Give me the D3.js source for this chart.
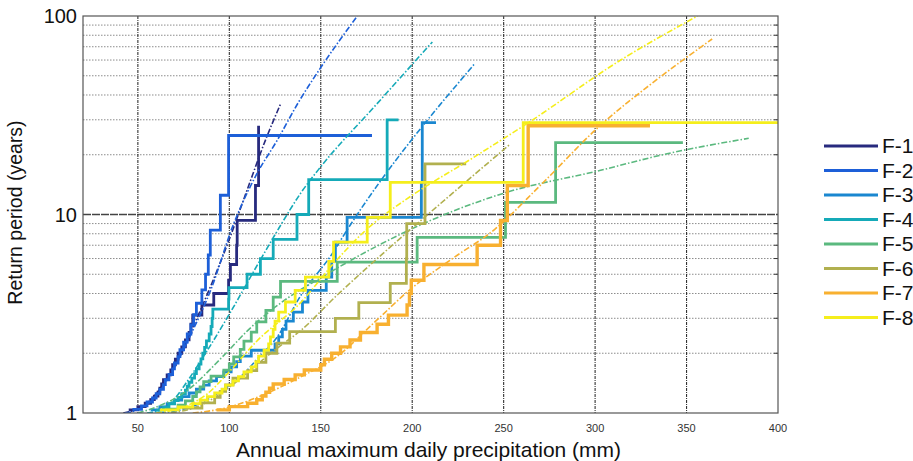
<!DOCTYPE html>
<html lang="en">
  <head>
    <meta charset="UTF-8" />
    <title>Return period vs annual maximum daily precipitation</title>
    <script src="https://d3js.org/d3.v7.min.js"></script>
    <style>
      body {
        margin: 0;
        background: #ffffff;
        font-family: "Liberation Sans", Arial, Helvetica, sans-serif;
      }
      .x-tick {
        font-size: 11px;
        fill: #333;
      }
      .y-tick {
        font-size: 20px;
        fill: #111;
      }
      .axis-title {
        fill: #111;
      }
      .legend-label {
        font-size: 21px;
        fill: #111;
      }
    </style>
  </head>
  <body>
    <div id="chart"></div>
    <script>
      // ---- data ----
      const seriesNames = ["F-1", "F-2", "F-3", "F-4", "F-5", "F-6", "F-7", "F-8"];
      const seriesColors = ["#272a7e", "#1d5fd8", "#1a87d0", "#15aab8", "#5bb97f", "#b1b04f", "#f8b030", "#f5ee1c"];

      const xTicks = [50, 100, 150, 200, 250, 300, 350, 400];
      const yTicks = [1, 10, 100];
      const yMinorTicks = [2, 3, 4, 5, 6, 7, 8, 9, 20, 30, 40, 50, 60, 70, 80, 90];

      // empirical step curves: precipitation (mm) and return period (years)
      const f1Precip = [45, 50, 54, 57, 59, 61, 62, 63, 64, 66, 68, 69, 70.5, 72, 74, 76, 78, 79, 80, 85, 91.5, 99.6, 100.6, 104, 104.3, 114.3, 116];
      const f1Period = [1.037, 1.077, 1.12, 1.167, 1.217, 1.273, 1.333, 1.4, 1.474, 1.556, 1.647, 1.75, 1.867, 2.0, 2.154, 2.333, 2.545, 2.8, 3.111, 3.5, 4.0, 4.667, 5.6, 7.0, 9.333, 14, 28];

      const f2Precip = [47, 52, 55, 58, 60, 62, 64, 65, 67, 69, 70, 72, 73, 75, 77, 79, 80.5, 82, 85, 87, 88.5, 89.6, 95.1, 99.6, 178];
      const f2Period = [1.042, 1.087, 1.136, 1.19, 1.25, 1.316, 1.389, 1.471, 1.563, 1.667, 1.786, 1.923, 2.083, 2.273, 2.5, 2.778, 3.125, 3.571, 4.167, 5.0, 6.25, 8.333, 12.5, 25, 25];

      const f3Precip = [57, 62, 66, 70, 74, 78, 82, 86, 89, 93, 97, 101, 104, 106, 112, 125, 127, 129, 131, 135, 140, 143, 153, 156, 158, 164.4, 205, 205.5, 213];
      const f3Period = [1.036, 1.074, 1.115, 1.16, 1.208, 1.261, 1.318, 1.381, 1.45, 1.526, 1.611, 1.706, 1.813, 1.933, 2.071, 2.231, 2.417, 2.636, 2.9, 3.222, 3.625, 4.143, 4.833, 5.8, 7.25, 9.667, 14.5, 29, 29];

      const f4Precip = [60, 64, 67, 70, 72, 74, 76, 77, 78, 79.5, 81, 82, 83.5, 84.5, 85.5, 86.5, 87.5, 89, 90, 90.6, 91, 99.6, 99.8, 109.7, 117, 124, 137, 143.4, 186.3, 192.5];
      const f4Period = [1.034, 1.071, 1.111, 1.154, 1.2, 1.25, 1.304, 1.364, 1.429, 1.5, 1.579, 1.667, 1.765, 1.875, 2.0, 2.143, 2.308, 2.5, 2.727, 3.0, 3.333, 3.75, 4.286, 5.0, 6.0, 7.5, 10, 15, 30, 30];

      const f5Precip = [65, 72, 76, 80, 82, 84, 86, 90, 97, 100, 102.4, 106, 108, 112, 115, 120, 124, 128, 159, 202.7, 251, 278.4, 348];
      const f5Period = [1.045, 1.095, 1.15, 1.211, 1.278, 1.353, 1.438, 1.533, 1.643, 1.769, 1.917, 2.091, 2.3, 2.556, 2.875, 3.286, 3.833, 4.6, 5.75, 7.667, 11.5, 23, 23];

      const f6Precip = [74, 85, 92, 95, 98, 102, 110, 115, 120, 126, 133, 158, 170.8, 188, 196.8, 197, 207, 229.5];
      const f6Period = [1.059, 1.125, 1.2, 1.286, 1.385, 1.5, 1.636, 1.8, 2.0, 2.25, 2.571, 3.0, 3.6, 4.5, 6.0, 9.0, 18, 18];

      const f7Precip = [93, 100, 110, 115, 118, 120, 122, 124, 130, 136, 141, 150, 152, 156, 160.8, 166, 171.7, 180.8, 187, 197.2, 198.5, 199.5, 206.4, 235.5, 248.3, 252, 263.4, 330];
      const f7Period = [1.037, 1.077, 1.12, 1.167, 1.217, 1.273, 1.333, 1.4, 1.474, 1.556, 1.647, 1.75, 1.867, 2.0, 2.154, 2.333, 2.545, 2.8, 3.111, 3.5, 4.0, 4.667, 5.6, 7.0, 9.333, 14, 28, 28];

      const f8Precip = [62, 72, 80, 84, 88, 92, 96, 98, 102, 105, 108, 112, 114.5, 116, 119, 121.5, 122.5, 124, 125, 127, 130.7, 136, 141.6, 154.4, 157, 175.4, 188, 260.7, 400];
      const f8Period = [1.036, 1.074, 1.115, 1.16, 1.208, 1.261, 1.318, 1.381, 1.45, 1.526, 1.611, 1.706, 1.813, 1.933, 2.071, 2.231, 2.417, 2.636, 2.9, 3.222, 3.625, 4.143, 4.833, 5.8, 7.25, 9.667, 14.5, 29, 29];

      // fitted distribution curves (dash-dot)
      const f1FitPrecip = [42, 50, 60, 70, 80, 90, 100, 110, 120, 128];
      const f1FitPeriod = [1.0, 1.05, 1.25, 1.75, 2.7, 4.4, 7.5, 13.5, 24, 36];

      const f2FitPrecip = [43, 50, 60, 70, 80, 90, 102, 115, 126, 138, 150, 170];
      const f2FitPeriod = [1.0, 1.04, 1.22, 1.7, 2.6, 4.2, 8.8, 16, 23.5, 37, 55, 100];

      const f3FitPrecip = [62, 80, 95, 106, 116, 126, 139, 156, 164.4, 234];
      const f3FitPeriod = [1.0, 1.08, 1.28, 1.52, 1.9, 2.4, 3.9, 6.3, 8.36, 57.3];

      const f4FitPrecip = [55, 65, 70.5, 76, 87, 99.6, 114, 127, 139, 150, 180, 211];
      const f4FitPeriod = [1.0, 1.06, 1.19, 1.4, 2.0, 3.1, 5.3, 8.5, 12.8, 17.4, 35.5, 74];

      const f5FitPrecip = [50, 60, 76, 97, 110, 132, 150, 175, 199, 250, 303, 340, 384];
      const f5FitPeriod = [1.0, 1.07, 1.28, 1.95, 2.6, 3.8, 4.8, 6.5, 8.4, 12.8, 16.7, 20.3, 24.2];

      const f6FitPrecip = [68, 85, 100, 115, 127, 139, 158, 180, 199, 225, 253];
      const f6FitPeriod = [1.0, 1.1, 1.35, 1.75, 2.15, 2.6, 3.85, 5.9, 8.4, 13.5, 22.4];

      const f7FitPrecip = [80, 98, 120, 139, 158, 180, 199, 222, 245, 270, 303, 330, 364];
      const f7FitPeriod = [1.0, 1.06, 1.25, 1.52, 1.9, 2.9, 4.2, 6.0, 8.4, 14, 28.2, 45, 76.6];

      const f8FitPrecip = [60, 76, 88, 99.6, 115, 139, 158, 175, 200, 230, 263, 314, 356];
      const f8FitPeriod = [1.0, 1.08, 1.25, 1.6, 2.3, 3.6, 5.8, 8.4, 12.5, 18.5, 28.8, 60, 100];

      const stepPrecip = [f1Precip, f2Precip, f3Precip, f4Precip, f5Precip, f6Precip, f7Precip, f8Precip];
      const stepPeriod = [f1Period, f2Period, f3Period, f4Period, f5Period, f6Period, f7Period, f8Period];
      const fitPrecip = [f1FitPrecip, f2FitPrecip, f3FitPrecip, f4FitPrecip, f5FitPrecip, f6FitPrecip, f7FitPrecip, f8FitPrecip];
      const fitPeriod = [f1FitPeriod, f2FitPeriod, f3FitPeriod, f4FitPeriod, f5FitPeriod, f6FitPeriod, f7FitPeriod, f8FitPeriod];

      // ---- layout ----
      const fullWidth = 913,
        fullHeight = 461;
      const margin = { top: 16, right: 135, bottom: 48, left: 83 },
        width = fullWidth - margin.left - margin.right,
        height = fullHeight - margin.top - margin.bottom;

      const svgRoot = d3
        .select("#chart")
        .append("svg")
        .attr("width", fullWidth)
        .attr("height", fullHeight);

      const svg = svgRoot
        .append("g")
        .attr("transform", `translate(${margin.left}, ${margin.top})`);

      const x = d3.scaleLinear().domain([20, 400]).range([0, width]);
      const y = d3.scaleLog().domain([1, 100]).range([height, 0]);

      svg
        .append("clipPath")
        .attr("id", "plot-clip")
        .append("rect")
        .attr("width", width)
        .attr("height", height);

      // minor horizontal grid (dotted)
      svg
        .append("g")
        .selectAll("line")
        .data(yMinorTicks)
        .join("line")
        .attr("x1", 0)
        .attr("x2", width)
        .attr("y1", (d) => y(d))
        .attr("y2", (d) => y(d))
        .attr("stroke", "#8c8c8c")
        .attr("stroke-width", 1)
        .attr("stroke-dasharray", "1.5,1.5");

      // major horizontal line at 10
      svg
        .append("line")
        .attr("x1", 0)
        .attr("x2", width)
        .attr("y1", y(10))
        .attr("y2", y(10))
        .attr("stroke", "#444")
        .attr("stroke-width", 1.3)
        .attr("stroke-dasharray", "8,1");

      // vertical grid (dash-dot, dark)
      svg
        .append("g")
        .selectAll("line")
        .data(xTicks.filter((d) => d < 400))
        .join("line")
        .attr("x1", (d) => x(d))
        .attr("x2", (d) => x(d))
        .attr("y1", 0)
        .attr("y2", height)
        .attr("stroke", "#333")
        .attr("stroke-width", 1.1)
        .attr("stroke-dasharray", "3,1,1,1");

      // right-side minor ticks
      svg
        .append("g")
        .selectAll("line")
        .data(yMinorTicks)
        .join("line")
        .attr("x1", width - 4)
        .attr("x2", width)
        .attr("y1", (d) => y(d))
        .attr("y2", (d) => y(d))
        .attr("stroke", "#333");

      // series
      const stepLine = d3
        .line()
        .x((d) => x(d[0]))
        .y((d) => y(d[1]))
        .curve(d3.curveStepAfter);

      const fitLine = d3
        .line()
        .x((d) => x(d[0]))
        .y((d) => y(d[1]))
        .curve(d3.curveMonotoneX);

      const plot = svg.append("g").attr("clip-path", "url(#plot-clip)");

      seriesNames.forEach((name, i) => {
        const steps = stepPrecip[i].map((p, j) => [p, stepPeriod[i][j]]);
        const fit = fitPrecip[i].map((p, j) => [p, fitPeriod[i][j]]);

        plot
          .append("path")
          .datum(steps)
          .attr("d", stepLine)
          .attr("fill", "none")
          .attr("stroke", seriesColors[i])
          .attr("stroke-width", name === "F-7" ? 3.4 : 2.8)
          .attr("stroke-linejoin", "miter");

        plot
          .append("path")
          .datum(fit)
          .attr("d", fitLine)
          .attr("fill", "none")
          .attr("stroke", seriesColors[i])
          .attr("stroke-width", 1.6)
          .attr("stroke-dasharray", "6,2,1.5,2");
      });

      // frame
      svg
        .append("rect")
        .attr("width", width)
        .attr("height", height)
        .attr("fill", "none")
        .attr("stroke", "#555")
        .attr("stroke-width", 1.2);

      // x tick labels
      svg
        .append("g")
        .selectAll("text")
        .data(xTicks)
        .join("text")
        .attr("class", "x-tick")
        .attr("x", (d) => x(d))
        .attr("y", height + 19)
        .attr("text-anchor", "middle")
        .text((d) => d);

      // y tick labels
      svg
        .append("g")
        .selectAll("text")
        .data(yTicks)
        .join("text")
        .attr("class", "y-tick")
        .attr("x", -6)
        .attr("y", (d) => y(d))
        .attr("dy", "0.35em")
        .attr("text-anchor", "end")
        .text((d) => d);

      // axis titles
      svg
        .append("text")
        .attr("class", "axis-title")
        .attr("x", width / 2 - 2)
        .attr("y", height + 44)
        .attr("text-anchor", "middle")
        .style("font-size", "21px")
        .text("Annual maximum daily precipitation (mm)");

      svg
        .append("text")
        .attr("class", "axis-title")
        .attr("transform", "rotate(-90)")
        .attr("x", -(y(10) - 2))
        .attr("y", -61)
        .attr("text-anchor", "middle")
        .style("font-size", "19.5px")
        .text("Return period (years)");

      // legend
      const legend = svgRoot
        .append("g")
        .attr("transform", "translate(824, 146)");

      seriesNames.forEach((name, i) => {
        const row = legend
          .append("g")
          .attr("transform", `translate(0, ${i * 24.5})`);
        row
          .append("line")
          .attr("x1", 0)
          .attr("x2", 54)
          .attr("stroke", seriesColors[i])
          .attr("stroke-width", 3);
        row
          .append("text")
          .attr("class", "legend-label")
          .attr("x", 58)
          .attr("dy", "0.35em")
          .text(name);
      });
    </script>
  </body>
</html>
